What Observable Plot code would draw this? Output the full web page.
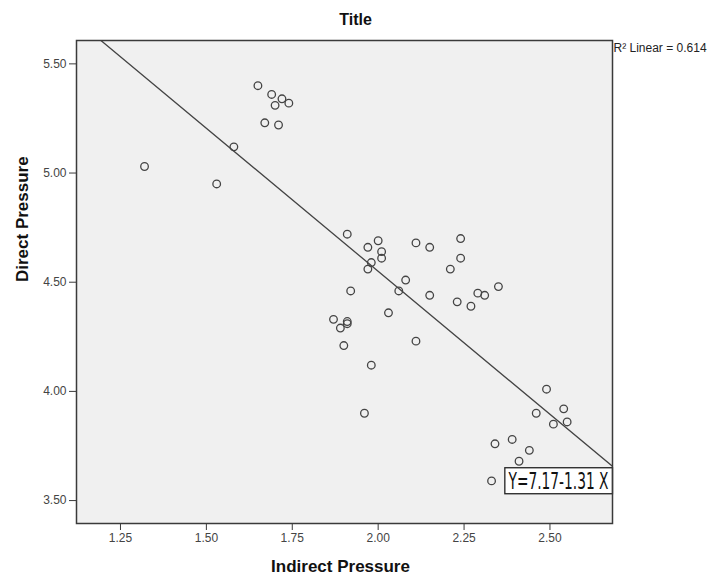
<!DOCTYPE html>
<html>
<head>
<meta charset="utf-8">
<script src="https://cdn.jsdelivr.net/npm/d3@7"></script>
<script src="https://cdn.jsdelivr.net/npm/@observablehq/plot@0.6"></script>
<style>
  body { margin: 0; background: #fff; }
  #chart svg { display: block; }
</style>
</head>
<body>
<div id="chart"></div>
<script>
// Indirect Pressure (x) and Direct Pressure (y)
const indirect = [
  1.65, 1.69, 1.72, 1.74, 1.70, 1.67, 1.71, 1.58, 1.32, 1.53,
  1.91, 2.00, 1.97, 2.01, 2.01, 1.98, 1.97, 2.11, 2.15, 2.24,
  2.24, 2.21, 2.08, 2.06, 2.15, 1.92, 2.29, 2.31, 2.35, 2.23,
  2.27, 2.03, 1.87, 1.91, 1.91, 1.89, 2.11, 1.90, 1.98, 1.96,
  2.49, 2.54, 2.46, 2.51, 2.55, 2.34, 2.39, 2.44, 2.41, 2.33
];
const direct = [
  5.40, 5.36, 5.34, 5.32, 5.31, 5.23, 5.22, 5.12, 5.03, 4.95,
  4.72, 4.69, 4.66, 4.64, 4.61, 4.59, 4.56, 4.68, 4.66, 4.70,
  4.61, 4.56, 4.51, 4.46, 4.44, 4.46, 4.45, 4.44, 4.48, 4.41,
  4.39, 4.36, 4.33, 4.32, 4.31, 4.29, 4.23, 4.21, 4.12, 3.90,
  4.01, 3.92, 3.90, 3.85, 3.86, 3.76, 3.78, 3.73, 3.68, 3.59
];
const xTicks = [1.25, 1.50, 1.75, 2.00, 2.25, 2.50];
const yTicks = [3.50, 4.00, 4.50, 5.00, 5.50];
const intercept = 7.17;
const slope = -1.31;
const r2 = 0.614;
const titleText = "Title";
const xLabel = "Indirect Pressure";
const yLabel = "Direct Pressure";
const xDomain = [1.122, 2.682];
const yDomain = [3.395, 5.607];

const points = indirect.map((x, i) => ({x, y: direct[i]}));
const fitLine = xDomain.map(x => ({x, y: intercept + slope * x}));
const eqText = `Y=${intercept}${slope < 0 ? "-" : "+"}${Math.abs(slope)} X`;
const ink = "#3a3a3a";

const svg = Plot.plot({
  width: 711,
  height: 578,
  marginLeft: 76,
  marginRight: 99,
  marginTop: 40,
  marginBottom: 55,
  style: {fontFamily: "'Liberation Sans', Arial, sans-serif", fontSize: "12px", background: "#fff", overflow: "visible"},
  x: {domain: xDomain},
  y: {domain: yDomain},
  marks: [
    Plot.frame({fill: "#f0f0f0", stroke: "none"}),
    Plot.dot(points, {x: "x", y: "y", r: 3.8, fill: "none", stroke: "#444", strokeWidth: 1.3}),
    Plot.line(fitLine, {x: "x", y: "y", stroke: "#444", strokeWidth: 1.3, clip: true}),
    Plot.text([eqText], {
      x: () => xDomain[1], y: () => intercept + slope * xDomain[1],
      text: d => d, textAnchor: "end", lineAnchor: "middle", dx: -4, dy: 15,
      fontSize: 23, fill: "#111",
      fontFamily: "'Liberation Sans Narrow', 'DejaVu Sans Condensed', 'Liberation Sans', sans-serif"
    }),
    Plot.frame({stroke: ink, strokeWidth: 1.5}),
    Plot.axisX({ticks: xTicks, tickFormat: d3.format(".2f"), tickSize: 7, tickPadding: 3, label: null, stroke: ink, fill: "#444", fontSize: 12}),
    Plot.axisY({ticks: yTicks, tickFormat: d3.format(".2f"), tickSize: 7, tickPadding: 3, label: null, stroke: ink, fill: "#444", fontSize: 12}),
    Plot.text([titleText], {frameAnchor: "top", dx: 11, dy: -21, lineAnchor: "middle", fontWeight: "bold", fontSize: 16, fill: "#111"}),
    Plot.text([`R\u00b2 Linear = ${r2}`], {frameAnchor: "top-right", textAnchor: "start", lineAnchor: "middle", dx: 1, dy: 8, fontSize: 12, fill: "#222"}),
    Plot.text([xLabel], {frameAnchor: "bottom", dx: -4, dy: 43, lineAnchor: "middle", fontWeight: "bold", fontSize: 17, fill: "#111"}),
    Plot.text([yLabel], {frameAnchor: "left", dx: -54, rotate: -90, lineAnchor: "middle", fontWeight: "bold", fontSize: 17, fill: "#111"})
  ]
});
document.getElementById("chart").appendChild(svg);

// Box behind the regression equation
const t = Array.from(svg.querySelectorAll("text")).find(el => el.textContent === eqText);
if (t) {
  t.setAttribute("textLength", 100);
  t.setAttribute("lengthAdjust", "spacingAndGlyphs");
  const bb = t.getBBox();
  const rect = document.createElementNS("http://www.w3.org/2000/svg", "rect");
  rect.setAttribute("x", bb.x - 3);
  rect.setAttribute("y", bb.y);
  rect.setAttribute("width", bb.width + 7);
  rect.setAttribute("height", bb.height);
  rect.setAttribute("fill", "#fff");
  rect.setAttribute("stroke", "#222");
  rect.setAttribute("stroke-width", 1.3);
  if (t.getAttribute("transform")) rect.setAttribute("transform", t.getAttribute("transform"));
  t.parentNode.insertBefore(rect, t);
}
</script>
</body>
</html>
